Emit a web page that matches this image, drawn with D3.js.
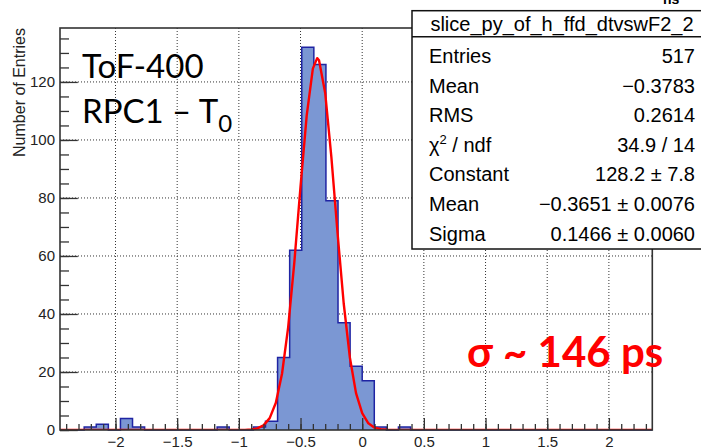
<!DOCTYPE html>
<html>
<head>
<meta charset="utf-8">
<script src="https://cdn.jsdelivr.net/npm/d3@7"></script>
<style>
  body { margin: 0; background: #fff; }
  svg { display: block; }
  .tick text { font-family: "Liberation Sans", Arial, sans-serif; font-size: 15px; fill: #222; }
</style>
</head>
<body>
<svg id="chart" width="701" height="447"></svg>
<script>
// histogram definition: 49 bins of width 0.098 starting at -2.45
const histMin = -2.45;
const histMax = 2.352;
const binWidth = 0.098;
const binCounts = [0, 0, 1, 2, 0, 4, 1, 0, 0, 0, 0, 0, 0, 1, 0, 0, 1, 3, 25, 62,
                   132, 126, 79, 37, 22, 17, 1, 0, 1, 0, 0, 0, 0, 0, 0, 0, 0, 0, 0, 0,
                   0, 0, 0, 0, 0, 0, 0, 0, 0];

// gaussian fit curve
const fitX = [-2.45, -0.95, -0.9, -0.85, -0.8, -0.75, -0.7, -0.65, -0.6, -0.55, -0.5, -0.45, -0.4,
              -0.365, -0.35, -0.3, -0.25, -0.2, -0.15, -0.1, -0.05, 0, 0.05, 0.1, 0.15, 0.2, 2.352];
const fitY = [0, 0.04, 0.17, 0.54, 1.6, 4.1, 9.4, 19.4, 35.5, 57.9, 83.9, 108.4, 124.6,
              128.2, 127.5, 116.2, 94.2, 68.0, 43.7, 25.0, 12.7, 5.8, 2.3, 0.8, 0.3, 0.1, 0];

// axis ticks
const xMajorTicks = [-2, -1.5, -1, -0.5, 0, 0.5, 1, 1.5, 2];
const yMajorTicks = [0, 20, 40, 60, 80, 100, 120];

// stats box
const statsTitle = "slice_py_of_h_ffd_dtvswF2_2";
const statLabels = ["Entries", "Mean", "RMS", "χ2 / ndf", "Constant", "Mean", "Sigma"];
const statValues = ["517", "−0.3783", "0.2614", "34.9 / 14", "128.2 ± 7.8", "−0.3651 ± 0.0076", "0.1466 ± 0.0060"];

const svg = d3.select("#chart");
const frame = { left: 60, right: 652.3, top: 28, bottom: 430 };

const x = d3.scaleLinear().domain([histMin, histMax]).range([frame.left, frame.right]);
const y = d3.scaleLinear().domain([0, 138.6]).range([frame.bottom, frame.top]);

svg.append("defs").append("clipPath").attr("id", "clip")
  .append("rect")
  .attr("x", frame.left).attr("y", frame.top)
  .attr("width", frame.right - frame.left).attr("height", frame.bottom - frame.top);

// dotted grid
const grid = svg.append("g").attr("class", "grid");
grid.selectAll("line.gx")
  .data(xMajorTicks)
  .join("line")
  .attr("x1", d => x(d)).attr("x2", d => x(d))
  .attr("y1", frame.top).attr("y2", frame.bottom)
  .attr("stroke", "#333").attr("stroke-width", 1).attr("stroke-dasharray", "1,2");
grid.selectAll("line.gy")
  .data(yMajorTicks.filter(d => d > 0))
  .join("line")
  .attr("x1", frame.left).attr("x2", frame.right)
  .attr("y1", d => y(d)).attr("y2", d => y(d))
  .attr("stroke", "#333").attr("stroke-width", 1).attr("stroke-dasharray", "1,2");

// histogram as a step outline
const pts = [[histMin, 0]];
binCounts.forEach((c, i) => {
  const lo = histMin + i * binWidth;
  pts.push([lo, c], [lo + binWidth, c]);
});
pts.push([histMax, 0]);

const area = d3.area().x(d => x(d[0])).y0(y(0)).y1(d => y(d[1]));
const line = d3.line().x(d => x(d[0])).y(d => y(d[1]));

svg.append("path")
  .datum(pts)
  .attr("d", area)
  .attr("fill", "#7b97d3");

svg.append("path")
  .datum(pts)
  .attr("d", line)
  .attr("fill", "none")
  .attr("stroke", "#1f24a3")
  .attr("stroke-width", 1.5);

// fit
svg.append("path")
  .datum(fitX.map((d, i) => [d, fitY[i]]))
  .attr("clip-path", "url(#clip)")
  .attr("d", line)
  .attr("fill", "none")
  .attr("stroke", "#ff0000")
  .attr("stroke-width", 2.4)
  .attr("stroke-linejoin", "round");

// axes (ROOT style: ticks pointing inward)
const xAxis = svg.append("g")
  .attr("transform", `translate(0,${frame.bottom})`)
  .call(d3.axisBottom(x).tickValues(xMajorTicks).tickSize(-12).tickSizeOuter(0)
    .tickPadding(6.5).tickFormat(d3.format("~g")));
svg.append("g")
  .attr("transform", `translate(0,${frame.bottom})`)
  .call(d3.axisBottom(x).tickValues(d3.range(-24, 24).map(d => d / 10)).tickSize(-6).tickFormat(""));

svg.append("g")
  .attr("transform", `translate(${frame.left},0)`)
  .call(d3.axisLeft(y).tickValues(yMajorTicks).tickSize(-17.8).tickSizeOuter(0).tickPadding(5));
svg.append("g")
  .attr("transform", `translate(${frame.left},0)`)
  .call(d3.axisLeft(y).tickValues(d3.range(0, 139, 5)).tickSize(-9).tickFormat(""));

svg.selectAll(".domain").remove();
svg.selectAll(".tick line").attr("stroke", "#333").attr("stroke-width", 1.3);

// frame
svg.append("rect")
  .attr("x", frame.left).attr("y", frame.top)
  .attr("width", frame.right - frame.left).attr("height", frame.bottom - frame.top)
  .attr("fill", "none").attr("stroke", "#333").attr("stroke-width", 1.6);

svg.append("text")
  .attr("transform", "translate(25,28) rotate(-90)")
  .attr("text-anchor", "end")
  .style("font-family", "'Liberation Sans', Arial, sans-serif")
  .style("font-size", "16px")
  .attr("fill", "#222")
  .text("Number of Entries");

// stats box
const box = svg.append("g");
box.append("rect")
  .attr("x", 412).attr("y", 10.7).attr("width", 300).attr("height", 238.3)
  .attr("fill", "#fff").attr("stroke", "#111").attr("stroke-width", 1.5);
box.append("line")
  .attr("x1", 412).attr("x2", 712).attr("y1", 36.7).attr("y2", 36.7)
  .attr("stroke", "#111").attr("stroke-width", 1.5);
box.append("text")
  .attr("x", 562).attr("y", 31)
  .attr("text-anchor", "middle")
  .style("font-family", "'Liberation Sans', Arial, sans-serif")
  .style("font-size", "20px")
  .text(statsTitle);

const rows = box.selectAll("g.row")
  .data(statLabels.map((d, i) => ({ label: d, value: statValues[i], i })))
  .join("g")
  .attr("class", "row")
  .attr("transform", d => `translate(0,${63 + d.i * 29.6})`)
  .style("font-family", "'Liberation Sans', Arial, sans-serif")
  .style("font-size", "20px");

rows.append("text")
  .attr("x", 429)
  .each(function (d) {
    const t = d3.select(this);
    if (d.label.startsWith("χ2")) {
      t.append("tspan").text("χ");
      t.append("tspan").attr("dy", -8).style("font-size", "13px").text("2");
      t.append("tspan").attr("dy", 8).text(" / ndf");
    } else {
      t.text(d.label);
    }
  });
rows.append("text")
  .attr("x", 695)
  .attr("text-anchor", "end")
  .text(d => d.value);

// annotations
svg.append("text")
  .attr("x", 82).attr("y", 78)
  .style("font-family", "Lato, 'Open Sans', sans-serif")
  .style("font-size", "33px")
  .text("ToF-400");
const rpc = svg.append("text")
  .attr("x", 82).attr("y", 123)
  .style("font-family", "Lato, 'Open Sans', sans-serif")
  .style("font-size", "33px");
rpc.append("tspan").text("RPC1 – T");
rpc.append("tspan").attr("dy", 9).style("font-size", "24px").text("0");

svg.append("text")
  .attr("x", 467).attr("y", 367)
  .style("font-family", "Lato, 'Open Sans', sans-serif")
  .style("font-size", "42px")
  .style("font-weight", "bold")
  .attr("fill", "#ff0000")
  .text("σ ~ 146 ps");

svg.append("text")
  .attr("x", 663).attr("y", 4)
  .style("font-family", "'Liberation Sans', Arial, sans-serif")
  .style("font-size", "14px")
  .style("font-weight", "bold")
  .text("ns");
</script>
</body>
</html>
